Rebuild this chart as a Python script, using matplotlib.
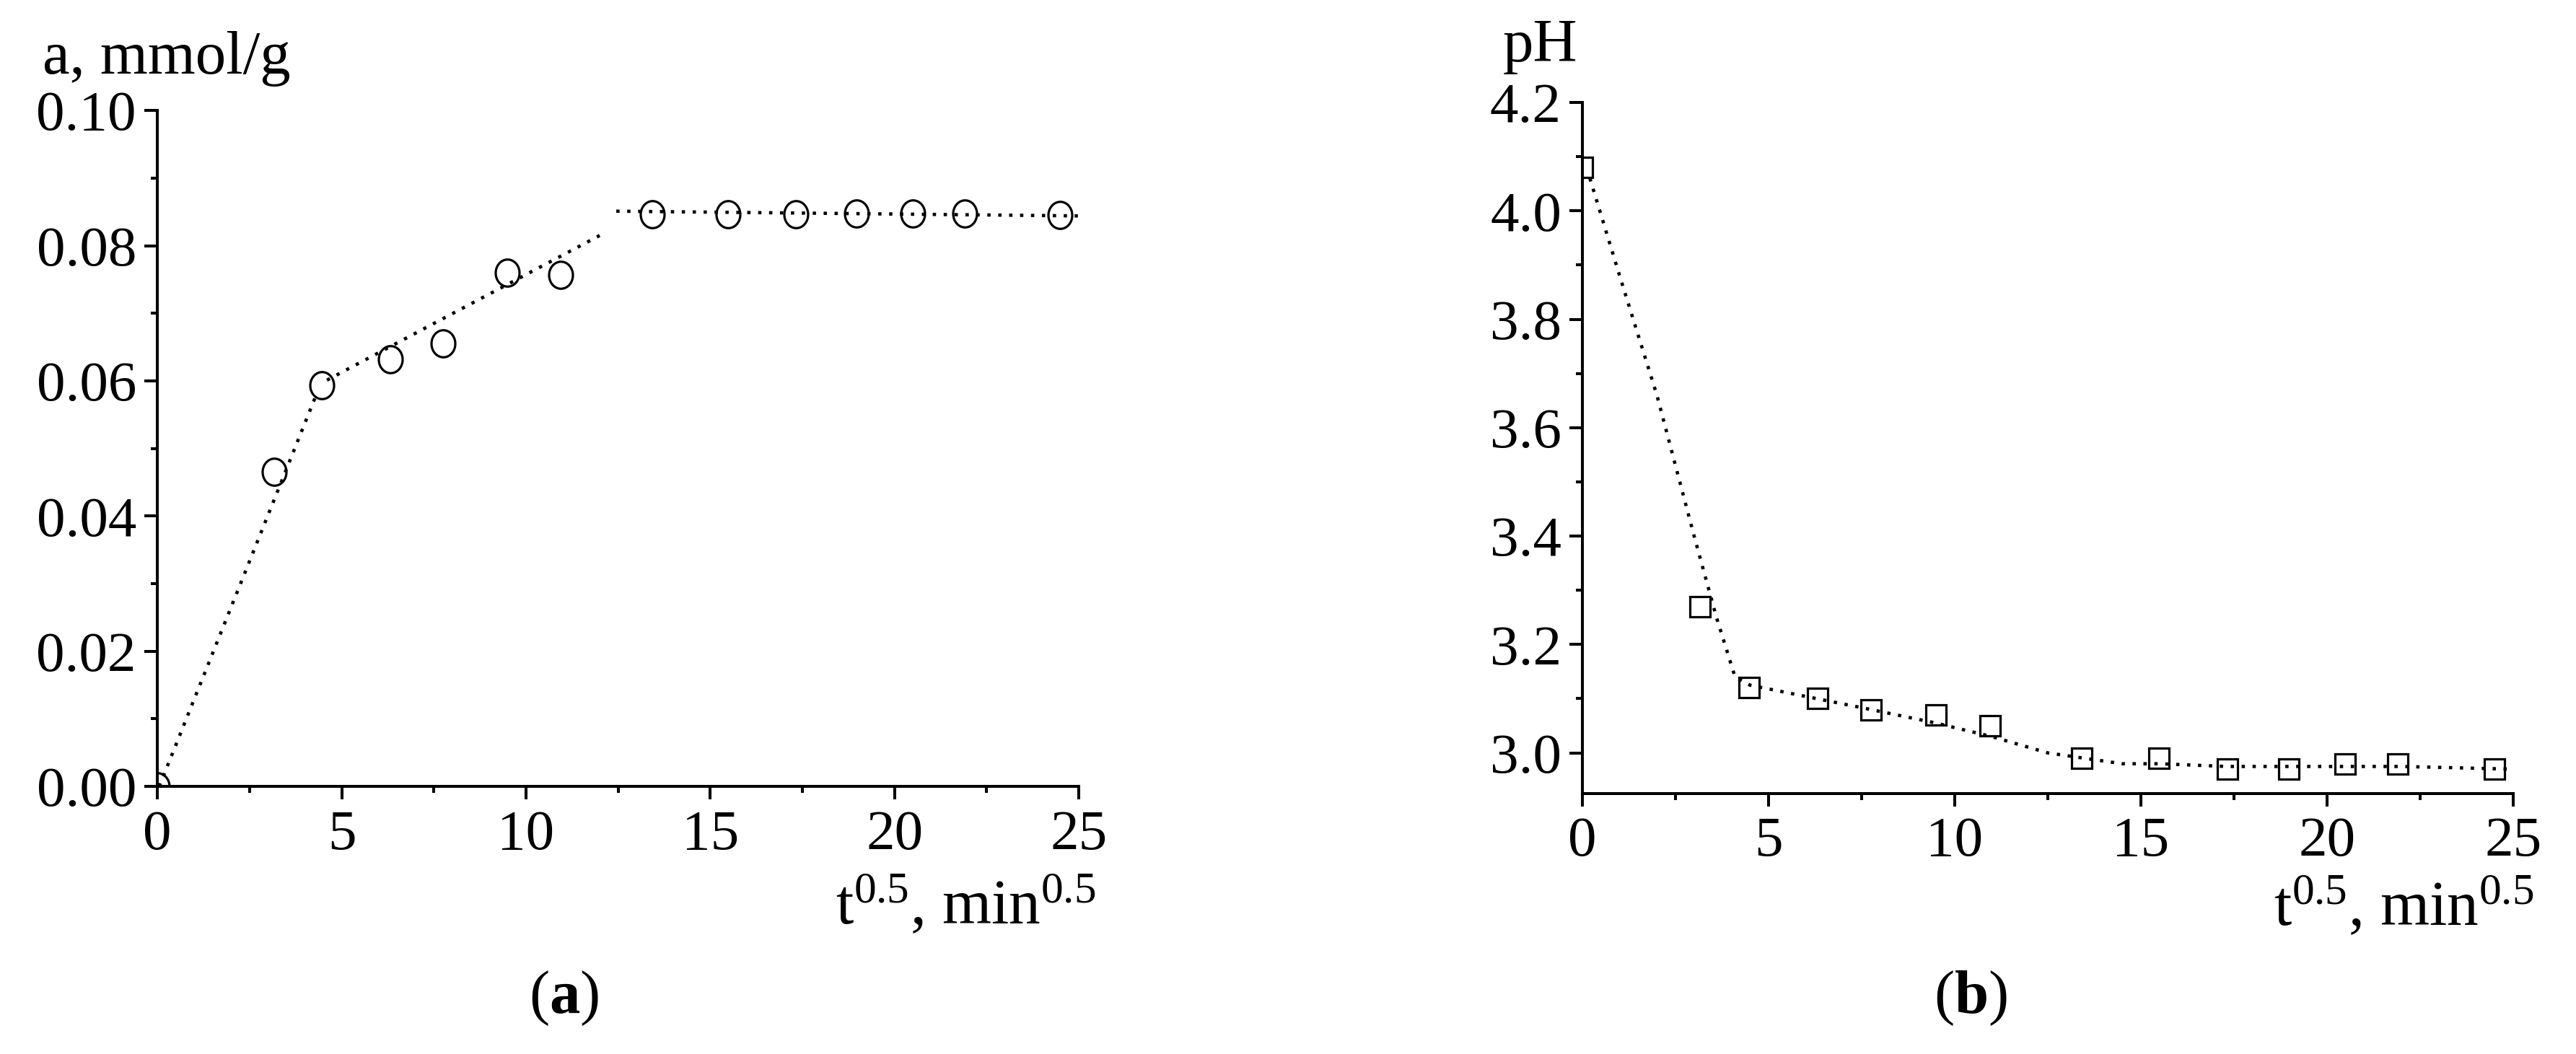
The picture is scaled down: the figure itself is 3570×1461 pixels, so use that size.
import numpy as np
import matplotlib
matplotlib.use('Agg')
import matplotlib.pyplot as plt
from matplotlib.ticker import MultipleLocator, FormatStrFormatter

plt.rcParams['font.family'] = ['Liberation Serif', 'DejaVu Serif']
plt.rcParams['mathtext.fontset'] = 'custom'
plt.rcParams['mathtext.rm'] = 'Liberation Serif'
plt.rcParams['mathtext.bf'] = 'Liberation Serif:bold'
plt.rcParams['mathtext.default'] = 'regular'

# sqrt(t), min^0.5
t_sqrt = [0, 3.16, 4.47, 6.32, 7.75, 9.49, 10.95, 13.42, 15.49, 17.32, 18.97, 20.49, 21.91, 24.49]
# (a) sorption, mmol/g
a_vals = [0.0, 0.0465, 0.0593, 0.0632, 0.0655, 0.0760, 0.0757, 0.0846, 0.0846, 0.0846, 0.0848, 0.0847, 0.0848, 0.0845]
# (b) pH
ph_vals = [4.08, 3.27, 3.12, 3.10, 3.08, 3.07, 3.05, 2.99, 2.99, 2.97, 2.97, 2.98, 2.98, 2.97]

# linear fit segments in (a)
fit1_x = [0.05, 4.3]
fit1_y = [0.0, 0.0578]
fit2_x = [4.6, 12.0]
fit2_y = [0.0601, 0.0815]
fit3_x = [12.45, 25.0]
fit3_y = [0.0851, 0.0844]

# smoothed curve in (b)
curve_x = [0.2, 1.0, 2.0, 3.0, 3.6, 4.1, 4.5, 6.3, 7.75, 9.5, 11.0, 12.5, 13.5, 14.5, 15.5, 17.3, 19.0, 20.5, 22.0, 25.0]
curve_y = [4.06, 3.88, 3.66, 3.40, 3.25, 3.14, 3.125, 3.10, 3.08, 3.055, 3.03, 3.00, 2.99, 2.98, 2.98, 2.975, 2.975, 2.975, 2.975, 2.97]

tick_fs = 57
lab_fs = 61
lw_ax = 2.9
dots = (0, (1, 2.3))
lw_dot = 3.3

# slightly tall circle marker, as in the picture
th = np.linspace(0, 2 * np.pi, 60)
ell = matplotlib.path.Path(np.column_stack([0.88 * np.cos(th), np.sin(th)]))

fig = plt.figure(figsize=(35.7, 14.61), dpi=100)
ax1 = fig.add_axes([0.0611, 0.2539, 0.3577, 0.6413])
ax2 = fig.add_axes([0.6143, 0.2471, 0.3613, 0.6557])


def style(ax):
    for s in ['top', 'right']:
        ax.spines[s].set_visible(False)
    for s in ['left', 'bottom']:
        ax.spines[s].set_linewidth(lw_ax)
    ax.tick_params(which='major', direction='out', length=13, width=lw_ax, labelsize=tick_fs)
    ax.tick_params(which='minor', direction='out', length=6.5, width=lw_ax)
    ax.tick_params(axis='x', which='major', pad=10)
    ax.tick_params(axis='y', which='major', pad=8)
    ax.set_xlim(0, 25)
    ax.xaxis.set_major_locator(MultipleLocator(5))
    ax.xaxis.set_minor_locator(MultipleLocator(2.5))


# (a)
style(ax1)
ax1.set_ylim(0, 0.10)
ax1.yaxis.set_major_locator(MultipleLocator(0.02))
ax1.yaxis.set_minor_locator(MultipleLocator(0.01))
ax1.yaxis.set_major_formatter(FormatStrFormatter('%.2f'))
ax1.plot(t_sqrt, a_vals, linestyle='none', marker=ell, markersize=27,
         mfc='none', mec='black', mew=2.3, zorder=2)
for fx, fy in [(fit1_x, fit1_y), (fit2_x, fit2_y), (fit3_x, fit3_y)]:
    ax1.plot(fx, fy, color='black', lw=lw_dot, linestyle=dots, zorder=3, clip_on=False)
ax1.text(-0.125, 1.055, 'a, mmol/g', transform=ax1.transAxes, fontsize=lab_fs,
         ha='left', va='baseline')
ax1.text(1.018, -0.203, 't$^{0.5}$, min$^{0.5}$', transform=ax1.transAxes,
         fontsize=lab_fs + 2, ha='right', va='baseline')

# (b)
style(ax2)
ax2.set_ylim(2.925, 4.2)
ax2.yaxis.set_major_locator(MultipleLocator(0.2))
ax2.yaxis.set_minor_locator(MultipleLocator(0.1))
ax2.yaxis.set_major_formatter(FormatStrFormatter('%.1f'))
ax2.plot(t_sqrt, ph_vals, linestyle='none', marker='s', markersize=20,
         mfc='none', mec='black', mew=2.3, zorder=2)
ax2.plot(curve_x, curve_y, color='black', lw=lw_dot, linestyle=dots, zorder=3)
ax2.text(-0.005, 1.06, 'pH', transform=ax2.transAxes, fontsize=lab_fs,
         ha='right', va='baseline')
ax2.text(1.022, -0.19, 't$^{0.5}$, min$^{0.5}$', transform=ax2.transAxes,
         fontsize=lab_fs + 2, ha='right', va='baseline')

fig.text(0.219, 0.053, '($\\mathbf{a}$)', fontsize=lab_fs, ha='center', va='center')
fig.text(0.765, 0.053, '($\\mathbf{b}$)', fontsize=lab_fs, ha='center', va='center')

fig.savefig('out.png', dpi=100, facecolor='white')
